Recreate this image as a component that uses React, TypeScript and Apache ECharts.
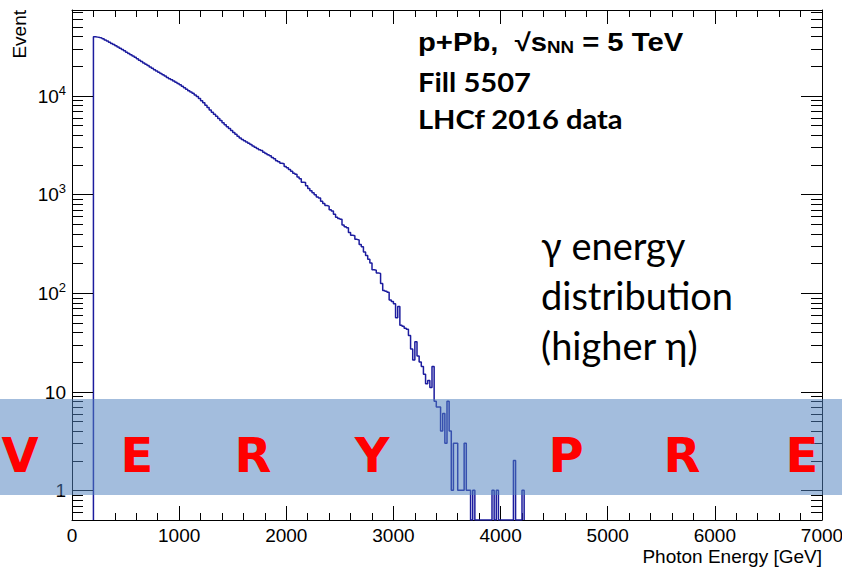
import React, { useEffect, useRef } from "react";
import * as echarts from "echarts";

// ---------------- data ----------------
const BIN_START = 200; // GeV, lower edge of first filled bin
const BIN_WIDTH = 20; // GeV
const eventCounts: number[] = [
  // 200 - 780
  39700, 39300, 38900, 38550, 37840, 36800, 35800, 34800, 33900, 33000,
  32060, 31190, 30340, 29440, 28580, 27670, 26850, 26060, 25230, 24490,
  23710, 22960, 22230, 21530, 20840, 20230, 19590, 18970, 18370, 17820,
  // 800 - 1380
  17300, 16790, 16290, 15810, 15350, 14890, 14490, 14090, 13680, 13300,
  12910, 12470, 12050, 11640, 11250, 10890, 10570, 10200, 9800, 9380,
  8920, 8470, 8020, 7590, 7180, 6820, 6500, 6180, 5890, 5600,
  // 1400 - 1980
  5320, 5080, 4860, 4650, 4450, 4250, 4060, 3880, 3720, 3610,
  3500, 3400, 3300, 3200, 3100, 3010, 2920, 2840, 2790, 2670,
  2590, 2520, 2470, 2370, 2300, 2190, 2140, 2070, 2040, 1920,
  // 2000 - 2580
  1860, 1790, 1720, 1640, 1600, 1500, 1440, 1330, 1320, 1220,
  1150, 1090, 1040, 990, 940, 920, 850, 810, 770, 760,
  700, 680, 630, 585, 570, 560, 490, 470, 460, 410,
  // 2600 - 3180
  385, 380, 350, 345, 310, 295, 260, 240, 220, 202,
  172, 170, 160, 158, 125, 106, 104, 102, 85, 82,
  78, 56, 73, 47, 46, 44, 43, 37, 27, 21,
  // 3200 - 3780
  32, 23, 20, 18, 15, 12, 13, 11, 18, 8,
  7, 7, 4, 6, 3, 8, 4, 1, 3, 3,
  1, 1, 1, 3, 1, 1, 0, 1, 0, 0,
  // 3800 - 4200
  0, 0, 0, 0, 0, 0, 1, 0, 1, 0,
  0, 0, 0, 0, 0, 0, 2, 0, 0, 0,
  1,
];

const X_MIN = 0;
const X_MAX = 7000;
const X_MAJOR = 1000;
const Y_MIN = 0.5;
const Y_MAX = 74000;
const yMajorTicks = [1, 10, 100, 1000, 10000];
const yMajorLabels = ["{b|1}", "{b|10}", "{b|10}{s|2}", "{b|10}{s|3}", "{b|10}{s|4}"];
const yMinorTicks = [
  0.6, 0.7, 0.8, 0.9,
  2, 3, 4, 5, 6, 7, 8, 9,
  20, 30, 40, 50, 60, 70, 80, 90,
  200, 300, 400, 500, 600, 700, 800, 900,
  2000, 3000, 4000, 5000, 6000, 7000, 8000, 9000,
  20000, 30000, 40000, 50000, 60000, 70000,
];

const xTitle = "Photon Energy [GeV]";
const yTitle = "Event";
const infoLines = ["Fill 5507", "LHCf 2016 data"];
const noteLines = ["γ energy", "distribution", "(higher η)"];
const stampLetters = ["V", "E", "R", "Y", "P", "R", "E"];

// ---------------- layout / style ----------------
const W = 842;
const H = 569;
const GRID = { left: 72, right: 20, top: 10, bottom: 49 };
const ROOT_FONT = "Liberation Sans";
const LINE_COLOR = "#1c1c9e";
const stampX = [20, 137, 253, 372, 566, 682, 802];
const Y_MAJOR_LEN = 21;
const Y_MINOR_LEN = 11;

function buildOption(): any {
  const stepData: number[][] = [[BIN_START, Y_MIN]];
  eventCounts.forEach((c, i) => {
    stepData.push([BIN_START + i * BIN_WIDTH, c > 0 ? c : Y_MIN]);
  });
  stepData.push([BIN_START + eventCounts.length * BIN_WIDTH, Y_MIN]);

  const xAxisBase = {
    type: "value",
    min: X_MIN,
    max: X_MAX,
    interval: X_MAJOR,
    axisLine: { show: true, onZero: false, lineStyle: { color: "#000", width: 1 } },
    axisTick: { show: true, inside: true, length: 14, lineStyle: { color: "#000", width: 1 } },
    minorTick: { show: true, splitNumber: 5, length: 7, lineStyle: { color: "#000", width: 1 } },
    splitLine: { show: false },
    minorSplitLine: { show: false },
  };
  const yAxisBase = {
    type: "log",
    logBase: 10,
    min: Y_MIN,
    max: Y_MAX,
    axisLine: { show: true, onZero: false, lineStyle: { color: "#000", width: 1 } },
    axisTick: { show: false },
    axisLabel: { show: false },
    splitLine: { show: false },
  };

  const tickSeries = (values: number[], len: number, labels?: string[]) => ({
    type: "custom",
    coordinateSystem: "cartesian2d",
    xAxisIndex: 0,
    yAxisIndex: 0,
    data: values.map((v, i) => [X_MIN, v, i]),
    silent: true,
    clip: false,
    z: 4,
    renderItem: (params: any, api: any) => {
      const y = Math.round(api.coord([X_MIN, api.value(1)])[1]) + 0.5;
      const cs = params.coordSys;
      const children: any[] = [
        {
          type: "line",
          shape: { x1: cs.x, y1: y, x2: cs.x + len, y2: y },
          style: { stroke: "#000", lineWidth: 1 },
        },
        {
          type: "line",
          shape: { x1: cs.x + cs.width - len, y1: y, x2: cs.x + cs.width, y2: y },
          style: { stroke: "#000", lineWidth: 1 },
        },
      ];
      if (labels) {
        children.push({
          type: "text",
          x: cs.x - 6,
          y: y,
          style: {
            text: labels[api.value(2)],
            align: "right",
            verticalAlign: "middle",
            fill: "#000",
            fontFamily: ROOT_FONT,
            fontSize: 19,
            rich: {
              b: { fontSize: 19, fontFamily: ROOT_FONT, fill: "#000" },
              s: { fontSize: 13, fontFamily: ROOT_FONT, fill: "#000", padding: [0, 0, 12, 0] },
            },
          },
        });
      }
      return { type: "group", children };
    },
  });

  return {
    animation: false,
    backgroundColor: "#fff",
    grid: {
      left: GRID.left,
      right: GRID.right,
      top: GRID.top,
      bottom: GRID.bottom,
      containLabel: false,
      outerBoundsMode: "none",
    },
    xAxis: [
      {
        ...xAxisBase,
        position: "bottom",
        axisLabel: {
          show: true,
          color: "#000",
          fontSize: 19,
          fontFamily: ROOT_FONT,
          margin: 6,
          showMinLabel: true,
          showMaxLabel: true,
          formatter: (v: number) => String(v),
        },
      },
      {
        ...xAxisBase,
        position: "top",
        axisLabel: { show: false },
      },
    ],
    yAxis: [
      { ...yAxisBase, position: "left" },
      { ...yAxisBase, position: "right" },
    ],
    series: [
      {
        type: "line",
        step: "end",
        data: stepData,
        xAxisIndex: 0,
        yAxisIndex: 0,
        symbol: "none",
        showSymbol: false,
        clip: true,
        lineStyle: { color: LINE_COLOR, width: 1.5 },
        z: 3,
        silent: true,
      },
      tickSeries(yMinorTicks, Y_MINOR_LEN),
      tickSeries(yMajorTicks, Y_MAJOR_LEN, yMajorLabels),
    ],
    graphic: [
      {
        type: "text",
        x: 19,
        y: 10,
        rotation: Math.PI / 2,
        style: {
          text: yTitle,
          fontSize: 19,
          fontFamily: ROOT_FONT,
          fill: "#000",
          align: "right",
          verticalAlign: "middle",
        },
      },
      {
        type: "text",
        x: W - GRID.right,
        y: 556,
        style: {
          text: xTitle,
          fontSize: 19,
          fontFamily: ROOT_FONT,
          fill: "#000",
          align: "right",
          verticalAlign: "middle",
        },
      },
      {
        type: "text",
        x: 418,
        y: 42,
        scaleX: 1.17,
        style: {
          text: "{m|p+Pb,  √s}{sub|NN}{m| = 5 TeV}",
          fill: "#000",
          align: "left",
          verticalAlign: "middle",
          rich: {
            m: { fontSize: 25, fontWeight: "bold", fontFamily: ROOT_FONT, fill: "#000" },
            sub: {
              fontSize: 16,
              fontWeight: "bold",
              fontFamily: ROOT_FONT,
              fill: "#000",
              padding: [10, 0, 0, 0],
            },
          },
        },
      },
      ...infoLines.map((t, i) => ({
        type: "text",
        x: 418,
        y: 82 + i * 37,
        scaleX: 1.12,
        style: {
          text: t,
          fontSize: 26,
          fontWeight: "bold",
          fontFamily: "Lato",
          fill: "#000",
          align: "left",
          verticalAlign: "middle",
        },
      })),
      ...noteLines.map((t, i) => ({
        type: "text",
        x: 541,
        y: 245 + i * 50,
        style: {
          text: t,
          fontSize: 38,
          fontFamily: "Lato",
          fill: "#000",
          align: "left",
          verticalAlign: "middle",
        },
      })),
      {
        type: "rect",
        z: 100,
        shape: { x: 0, y: 399, width: W, height: 96 },
        style: { fill: "rgba(79,129,189,0.52)" },
      },
      ...stampLetters.map((t, i) => ({
        type: "text",
        z: 101,
        x: stampX[i],
        y: 455,
        style: {
          text: t,
          fontSize: 48,
          fontWeight: "bold",
          fontFamily: "DejaVu Sans",
          fill: "#ff0000",
          align: "center",
          verticalAlign: "middle",
        },
      })),
    ],
  };
}

export default function App() {
  const ref = useRef<HTMLDivElement>(null);
  useEffect(() => {
    if (!ref.current) return;
    const chart = echarts.init(ref.current, undefined, { renderer: "svg", width: W, height: H });
    chart.setOption(buildOption());
    return () => chart.dispose();
  }, []);
  return (
    <div
      ref={ref}
      style={{ position: "fixed", left: 0, top: 0, width: W, height: H, background: "#fff" }}
    />
  );
}
